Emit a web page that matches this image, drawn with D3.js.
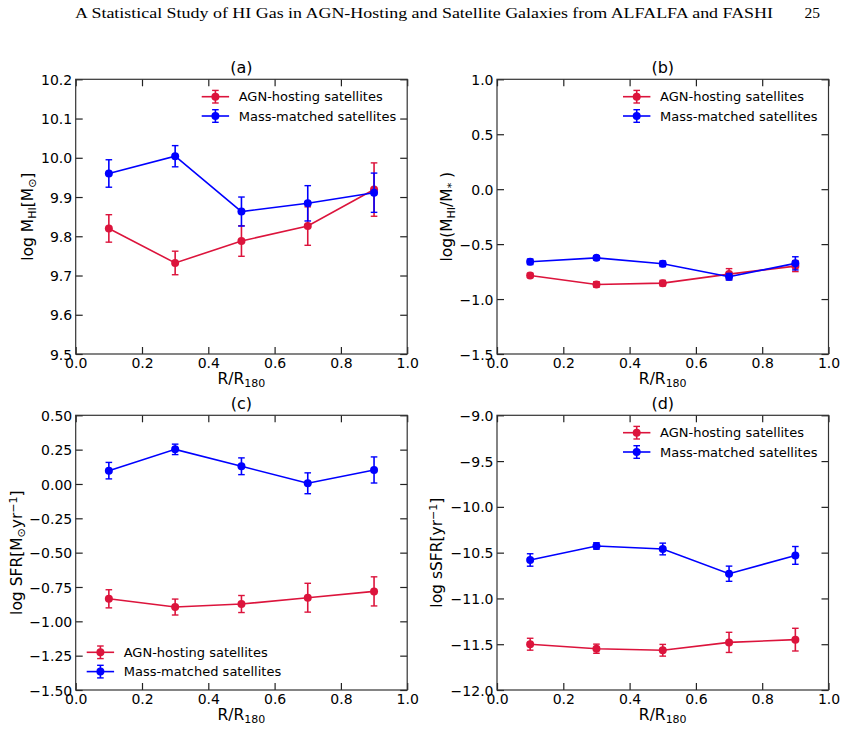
<!DOCTYPE html>
<html>
<head>
<meta charset="utf-8">
<script src="https://cdn.jsdelivr.net/npm/d3@7"></script>
<style>
  body { margin: 0; background: #fff; }
  svg text { font-family: "DejaVu Sans", sans-serif; fill: #000; }
</style>
</head>
<body>
<div class="chart"></div>
<script>
// radial bins (R/R180)
var rBins = [0.1, 0.3, 0.5, 0.7, 0.9];

// (a) log M_HI
var hiMassAgn = [9.82, 9.732, 9.788, 9.826, 9.919];
var hiMassAgnErr = [0.035, 0.03, 0.039, 0.049, 0.068];
var hiMassCtrl = [9.96, 10.004, 9.863, 9.884, 9.911];
var hiMassCtrlErr = [0.035, 0.027, 0.037, 0.045, 0.05];

// (b) log(M_HI/M_*)
var hiFracAgn = [-0.785, -0.867, -0.855, -0.773, -0.70];
var hiFracAgnErr = [0.02, 0.025, 0.025, 0.05, 0.05];
var hiFracCtrl = [-0.661, -0.625, -0.679, -0.797, -0.675];
var hiFracCtrlErr = [0.025, 0.02, 0.025, 0.03, 0.06];

// (c) log SFR
var sfrAgn = [-0.836, -0.896, -0.874, -0.828, -0.782];
var sfrAgnErr = [0.066, 0.058, 0.062, 0.105, 0.106];
var sfrCtrl = [0.097, 0.252, 0.129, 0.005, 0.102];
var sfrCtrlErr = [0.06, 0.038, 0.061, 0.076, 0.095];

// (d) log sSFR
var ssfrAgn = [-11.5, -11.549, -11.566, -11.48, -11.45];
var ssfrAgnErr = [0.065, 0.05, 0.064, 0.11, 0.124];
var ssfrCtrl = [-10.58, -10.427, -10.46, -10.73, -10.53];
var ssfrCtrlErr = [0.068, 0.035, 0.064, 0.083, 0.097];

var seriesNames = ["AGN-hosting satellites", "Mass-matched satellites"];
var xTicks = [0, 0.2, 0.4, 0.6, 0.8, 1.0];

var colors = ["#dc143c", "#0000ff"];

var svgWidth = 854;
var svgHeight = 731;

var svg = d3.select(".chart")
  .append("svg")
  .attr("width", svgWidth)
  .attr("height", svgHeight);

// page header
svg.append("text")
  .attr("x", 75)
  .attr("y", 18)
  .attr("textLength", 698)
  .attr("lengthAdjust", "spacingAndGlyphs")
  .style("font-family", "'Liberation Serif', serif")
  .style("font-size", "15.5px")
  .text("A Statistical Study of HI Gas in AGN-Hosting and Satellite Galaxies from ALFALFA and FASHI");

svg.append("text")
  .attr("x", 820)
  .attr("y", 18)
  .attr("text-anchor", "end")
  .style("font-family", "'Liberation Serif', serif")
  .style("font-size", "15.5px")
  .text("25");

var panels = [
  { title: "(a)", left: 75.7, top: 79.3, yDomain: [9.5, 10.2], yTicks: d3.range(9.5, 10.25, 0.1), fmt: ".1f",
    agn: hiMassAgn, agnErr: hiMassAgnErr, ctrl: hiMassCtrl, ctrlErr: hiMassCtrlErr,
    legend: "ur", ylabelX: -48,
    ylabel: [["log M", 0], ["HI", 1], ["[M", 0], ["\u2299", 1], ["]", 0]] },
  { title: "(b)", left: 497, top: 79.3, yDomain: [-1.5, 1.0], yTicks: d3.range(-1.5, 1.01, 0.5), fmt: ".1f",
    agn: hiFracAgn, agnErr: hiFracAgnErr, ctrl: hiFracCtrl, ctrlErr: hiFracCtrlErr,
    legend: "ur", ylabelX: -50,
    ylabel: [["log(M", 0], ["HI", 1], ["/M", 0], ["*", 1], [" )", 0]] },
  { title: "(c)", left: 75.7, top: 415.3, yDomain: [-1.5, 0.5], yTicks: d3.range(-1.5, 0.51, 0.25), fmt: ".2f",
    agn: sfrAgn, agnErr: sfrAgnErr, ctrl: sfrCtrl, ctrlErr: sfrCtrlErr,
    legend: "ll", ylabelX: -59,
    ylabel: [["log SFR[M", 0], ["\u2299", 1], ["yr", 0], ["\u22121", 2], ["]", 0]] },
  { title: "(d)", left: 497, top: 415.3, yDomain: [-12, -9], yTicks: d3.range(-12, -8.99, 0.5), fmt: ".1f",
    agn: ssfrAgn, agnErr: ssfrAgnErr, ctrl: ssfrCtrl, ctrlErr: ssfrCtrlErr,
    legend: "ur", ylabelX: -60,
    ylabel: [["log sSFR[yr", 0], ["\u22121", 2], ["]", 0]] }
];

var width = 331.5;
var height = 274.7;
var tickLen = 7;

panels.forEach(function(p) {
  var g = svg.append("g")
    .attr("transform", `translate(${p.left}, ${p.top})`);

  var xScale = d3.scaleLinear().domain([0, 1]).range([0, width]);
  var yScale = d3.scaleLinear().domain(p.yDomain).range([height, 0]);
  var fmt = d3.format(p.fmt);

  // bottom axis with labels, ticks pointing in
  var xAxis = g.append("g")
    .attr("transform", `translate(0, ${height})`)
    .call(d3.axisBottom(xScale).tickValues(xTicks).tickSize(-tickLen).tickPadding(0)
      .tickFormat(d3.format(".1f")));
  xAxis.selectAll("text")
    .attr("y", 14)
    .attr("dy", 0)
    .style("font-size", "14px");

  // left axis
  var yAxis = g.append("g")
    .call(d3.axisLeft(yScale).tickValues(p.yTicks).tickSize(-tickLen).tickPadding(0)
      .tickFormat(function(d) { return fmt(d).replace("-", "\u2212"); }));
  yAxis.selectAll("text")
    .attr("x", -3.5)
    .attr("dy", "0.36em")
    .style("font-size", "14px");

  // top & right ticks, no labels
  g.append("g")
    .call(d3.axisTop(xScale).tickValues(xTicks).tickSize(-tickLen).tickFormat(""));
  g.append("g")
    .attr("transform", `translate(${width}, 0)`)
    .call(d3.axisRight(yScale).tickValues(p.yTicks).tickSize(-tickLen).tickFormat(""));

  g.selectAll(".domain").remove();
  g.selectAll(".tick line").attr("stroke", "#222").attr("stroke-width", 1.2);

  g.append("rect")
    .attr("width", width)
    .attr("height", height)
    .attr("fill", "none")
    .attr("stroke", "#333")
    .attr("stroke-width", 1.2);

  // title
  g.append("text")
    .attr("x", width / 2)
    .attr("y", -6)
    .attr("text-anchor", "middle")
    .style("font-size", "16px")
    .text(p.title);

  // x label
  var xl = g.append("text")
    .attr("x", width / 2)
    .attr("y", height + 30)
    .attr("text-anchor", "middle")
    .style("font-size", "15.5px");
  xl.append("tspan").text("R/R");
  xl.append("tspan").attr("baseline-shift", "-25%").style("font-size", "11px").text("180");

  // y label
  var yl = g.append("text")
    .attr("transform", `translate(${p.ylabelX}, ${height / 2}) rotate(-90)`)
    .attr("text-anchor", "middle")
    .attr("dy", "0.35em")
    .style("font-size", "15.5px");
  p.ylabel.forEach(function(part) {
    var t = yl.append("tspan").text(part[0]);
    if (part[1] === 1) t.attr("baseline-shift", "-25%").style("font-size", "11px");
    if (part[1] === 2) t.attr("baseline-shift", "45%").style("font-size", "11px");
  });

  // series: AGN first, mass-matched on top
  var series = [
    { vals: p.agn, errs: p.agnErr, color: colors[0] },
    { vals: p.ctrl, errs: p.ctrlErr, color: colors[1] }
  ];

  series.forEach(function(s) {
    var pts = rBins.map(function(r, i) { return { x: r, y: s.vals[i], e: s.errs[i] }; });
    var sg = g.append("g");

    sg.selectAll(".ebar")
      .data(pts)
      .enter()
      .append("line")
      .attr("x1", d => xScale(d.x))
      .attr("x2", d => xScale(d.x))
      .attr("y1", d => yScale(d.y - d.e))
      .attr("y2", d => yScale(d.y + d.e))
      .attr("stroke", s.color)
      .attr("stroke-width", 1.6);

    [-1, 1].forEach(function(sign) {
      sg.selectAll(".cap")
        .data(pts)
        .enter()
        .append("line")
        .attr("x1", d => xScale(d.x) - 3.3)
        .attr("x2", d => xScale(d.x) + 3.3)
        .attr("y1", d => yScale(d.y + sign * d.e))
        .attr("y2", d => yScale(d.y + sign * d.e))
        .attr("stroke", s.color)
        .attr("stroke-width", 1.4);
    });

    sg.append("path")
      .datum(pts)
      .attr("fill", "none")
      .attr("stroke", s.color)
      .attr("stroke-width", 1.6)
      .attr("d", d3.line().x(d => xScale(d.x)).y(d => yScale(d.y)));

    sg.selectAll("circle")
      .data(pts)
      .enter()
      .append("circle")
      .attr("cx", d => xScale(d.x))
      .attr("cy", d => yScale(d.y))
      .attr("r", 4)
      .attr("fill", s.color);
  });

  // legend
  var lx, ly;
  if (p.legend === "ur") { lx = width - 205.5; ly = 17.4; }
  else { lx = 11; ly = height - 37.7; }

  series.forEach(function(s, i) {
    var y = ly + i * 19.3;
    var cx = lx + 13.7;
    g.append("line")
      .attr("x1", lx).attr("x2", lx + 27.4)
      .attr("y1", y).attr("y2", y)
      .attr("stroke", s.color).attr("stroke-width", 1.6);
    g.append("line")
      .attr("x1", cx).attr("x2", cx)
      .attr("y1", y - 6.3).attr("y2", y + 6.3)
      .attr("stroke", s.color).attr("stroke-width", 1.6);
    [-6.3, 6.3].forEach(function(o) {
      g.append("line")
        .attr("x1", cx - 3.3).attr("x2", cx + 3.3)
        .attr("y1", y + o).attr("y2", y + o)
        .attr("stroke", s.color).attr("stroke-width", 1.4);
    });
    g.append("circle")
      .attr("cx", cx).attr("cy", y).attr("r", 4)
      .attr("fill", s.color);
    g.append("text")
      .attr("x", lx + 37)
      .attr("y", y)
      .attr("dy", "0.36em")
      .style("font-size", "13px")
      .text(seriesNames[i]);
  });
});
</script>
</body>
</html>
